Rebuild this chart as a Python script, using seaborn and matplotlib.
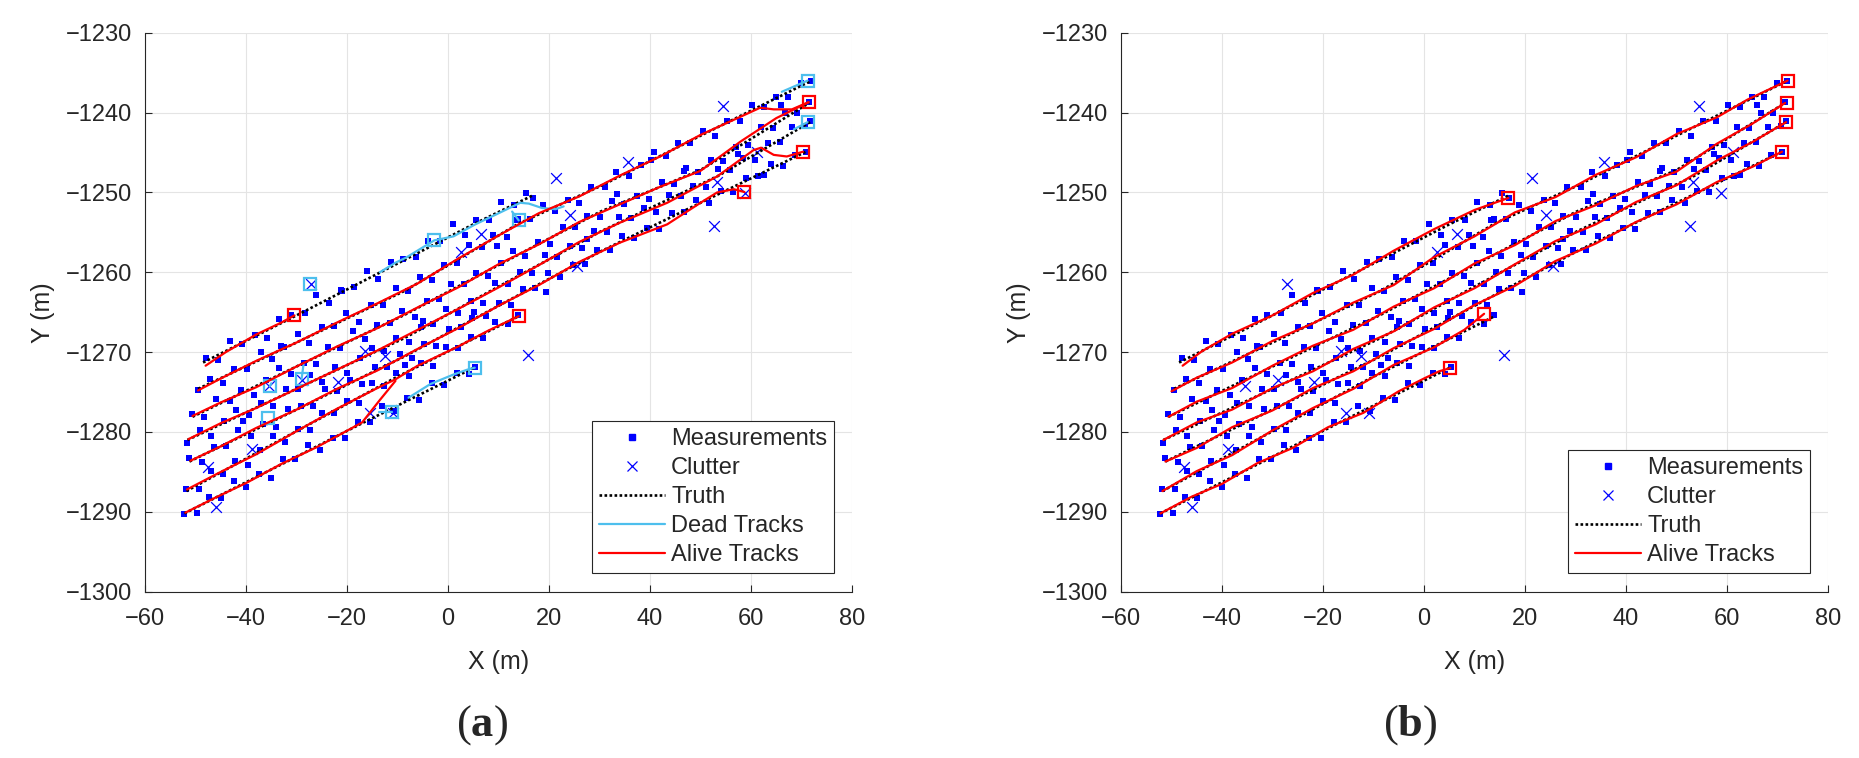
import matplotlib
matplotlib.use("Agg")
import pandas as pd
from matplotlib import pyplot as plt
from matplotlib.lines import Line2D
import seaborn as sns

# ---- measurements, one list per target (same scan in both panels)
meas_A_x = [-48.0, -45.6, -43.1, -40.8, -38.2, -35.9, -33.4, -31.0, -28.3, -26.1, -23.5, -21.2, -18.7, -16.0,
            -13.8, -11.2, -8.9, -6.3, -4.0, -1.5, 0.9, 3.3, 5.6, 8.2, 10.5, 13.1, 15.4, 16.8]
meas_A_y = [-1270.7, -1271.0, -1268.6, -1269.0, -1267.9, -1268.2, -1265.8, -1265.3, -1265.1, -1262.9, -1263.9,
            -1262.2, -1261.9, -1259.9, -1260.9, -1258.7, -1258.4, -1258.1, -1256.1, -1256.1, -1254.0, -1255.3,
            -1253.4, -1253.5, -1251.2, -1251.6, -1250.1, -1250.7]
meas_B_x = [-49.5, -47.2, -44.6, -42.3, -39.8, -37.1, -34.9, -32.4, -29.8, -27.5, -25.0, -22.6, -20.1, -17.7,
            -15.2, -12.9, -10.3, -8.0, -5.6, -3.1, -0.7, 1.8, 4.2, 6.7, 9.0, 11.6, 13.9, 16.3, 18.8, 21.1, 23.7,
            26.0, 28.4, 31.0, 33.3, 35.8, 38.2, 40.7, 43.1, 45.5, 48.0, 50.4, 52.9, 55.2, 57.8, 60.1, 62.6, 65.0,
            67.4, 69.9, 71.9]
meas_B_y = [-1274.8, -1273.4, -1273.9, -1272.1, -1272.1, -1270.0, -1270.8, -1269.4, -1267.7, -1268.9, -1266.9,
            -1266.7, -1265.1, -1266.2, -1264.1, -1264.1, -1262.0, -1262.4, -1260.6, -1261.0, -1259.1, -1258.9,
            -1256.6, -1256.8, -1255.3, -1255.6, -1253.3, -1253.3, -1251.6, -1252.3, -1250.9, -1251.3, -1249.3,
            -1249.3, -1247.4, -1248.0, -1246.6, -1245.0, -1245.5, -1243.8, -1243.8, -1242.3, -1242.9, -1241.0,
            -1241.0, -1239.1, -1239.3, -1238.0, -1238.0, -1236.3, -1236.0]
meas_C_x = [-50.6, -48.3, -45.9, -43.2, -40.9, -38.4, -36.0, -33.5, -31.1, -28.6, -26.2, -23.8, -21.3, -18.9,
            -16.4, -14.0, -11.5, -9.1, -6.6, -4.2, -1.7, 0.6, 3.1, 5.5, 8.0, 10.4, 12.9, 15.3, 17.8, 20.2, 22.7,
            25.1, 27.6, 30.0, 32.5, 34.9, 37.4, 39.8, 42.3, 44.7, 47.2, 49.6, 52.1, 54.5, 57.0, 59.4, 61.9, 64.3,
            66.8, 69.2, 71.4]
meas_C_y = [-1277.8, -1278.1, -1275.9, -1276.1, -1274.7, -1275.4, -1273.5, -1272.0, -1272.7, -1271.3, -1271.5,
            -1269.4, -1269.5, -1267.4, -1268.3, -1266.6, -1266.4, -1264.8, -1265.6, -1263.6, -1263.4, -1261.5,
            -1261.5, -1260.1, -1260.5, -1258.8, -1257.3, -1257.9, -1256.2, -1256.5, -1254.3, -1254.3, -1252.9,
            -1253.1, -1251.1, -1251.5, -1250.4, -1250.8, -1248.7, -1249.0, -1247.0, -1247.5, -1246.0, -1246.1,
            -1244.3, -1244.0, -1241.8, -1241.9, -1240.1, -1240.1, -1238.7]
meas_D_x = [-51.6, -49.2, -46.9, -44.3, -42.0, -39.5, -37.0, -34.7, -32.1, -29.8, -27.3, -24.9, -22.4, -20.0,
            -17.5, -15.1, -12.6, -10.2, -7.8, -5.3, -2.9, -0.4, 2.0, 4.5, 6.9, 9.4, 11.8, 14.3, 16.7, 19.2, 21.6,
            24.1, 26.5, 29.0, 31.4, 33.9, 36.3, 38.8, 41.2, 43.7, 46.1, 48.6, 51.0, 53.5, 55.9, 58.4, 60.8, 63.3,
            65.7, 68.2, 70.6, 71.7]
meas_D_y = [-1281.4, -1279.7, -1280.5, -1278.6, -1277.2, -1277.9, -1276.4, -1276.8, -1274.6, -1274.6, -1272.9,
            -1273.7, -1271.9, -1272.6, -1270.7, -1269.5, -1269.8, -1268.2, -1268.7, -1266.8, -1266.5, -1264.6,
            -1265.1, -1263.6, -1263.8, -1261.4, -1261.5, -1260.0, -1260.1, -1257.8, -1258.1, -1256.7, -1257.0,
            -1254.8, -1254.9, -1253.1, -1253.2, -1252.0, -1252.5, -1250.3, -1250.5, -1249.2, -1249.3, -1247.1,
            -1247.2, -1245.7, -1245.9, -1243.8, -1243.7, -1241.8, -1241.7, -1241.1]
meas_E_x = [-51.2, -48.8, -46.4, -43.9, -41.5, -39.0, -36.6, -34.1, -31.7, -29.2, -26.8, -24.3, -21.9, -19.4,
            -17.0, -14.5, -12.1, -9.6, -7.2, -4.7, -2.3, 0.2, 2.6, 5.1, 7.5, 10.0, 12.4, 14.9, 17.3, 19.8, 22.2,
            24.7, 27.1, 29.6, 32.0, 34.5, 36.9, 39.4, 41.8, 44.3, 46.7, 49.2, 51.6, 54.1, 56.5, 59.0, 61.4, 63.9,
            66.3, 68.8, 70.9]
meas_E_y = [-1283.2, -1283.8, -1281.9, -1281.7, -1279.8, -1280.5, -1279.0, -1279.4, -1277.1, -1276.8, -1276.7,
            -1274.6, -1274.9, -1273.5, -1274.0, -1271.8, -1271.9, -1270.2, -1270.7, -1269.0, -1269.2, -1267.1,
            -1266.8, -1265.0, -1265.5, -1263.9, -1264.1, -1262.1, -1262.0, -1260.1, -1260.6, -1259.1, -1259.0,
            -1257.2, -1257.2, -1255.4, -1255.7, -1254.5, -1254.6, -1252.6, -1252.5, -1251.0, -1251.3, -1249.8,
            -1250.0, -1248.2, -1248.0, -1246.5, -1246.7, -1245.3, -1244.9]
meas_F_x = [-51.8, -49.4, -47.0, -44.5, -42.1, -39.6, -37.2, -34.7, -32.3, -29.8, -27.4, -24.9, -22.5, -20.0,
            -17.6, -15.1, -12.7, -10.2, -7.8, -5.3, -2.9, -0.4, 2.0, 4.5, 6.9, 9.4, 11.8, 13.9]
meas_F_y = [-1287.2, -1287.2, -1284.9, -1285.2, -1283.6, -1284.1, -1282.2, -1280.5, -1281.2, -1279.6, -1279.8,
            -1277.6, -1277.6, -1276.1, -1276.4, -1273.9, -1274.3, -1272.6, -1273.0, -1271.3, -1271.7, -1269.4,
            -1269.5, -1268.1, -1268.2, -1266.2, -1266.5, -1265.3]
meas_G_x = [-52.2, -49.8, -47.3, -44.9, -42.4, -40.0, -37.5, -35.1, -32.6, -30.2, -27.7, -25.3, -22.8, -20.4,
            -17.9, -15.5, -13.0, -10.6, -8.1, -5.7, -3.2, -0.8, 1.7, 4.1, 5.4]
meas_G_y = [-1290.3, -1290.2, -1288.1, -1288.3, -1286.2, -1286.9, -1285.2, -1285.8, -1283.4, -1283.4, -1281.6,
            -1282.2, -1280.7, -1280.8, -1278.8, -1278.8, -1276.8, -1277.4, -1275.8, -1276.0, -1273.9, -1274.1,
            -1272.6, -1272.8, -1271.8]
# stray detections sitting between the lanes
meas_X_x = [-21.0, -8.5, 4.8, 13.2, 27.5, 40.2, 46.8, 62.5, -33.0, -5.0, 9.8, 33.5, 57.5, 66.0, -40.5, 19.5]
meas_X_y = [-1262.3, -1271.6, -1265.7, -1253.4, -1255.8, -1246.0, -1247.3, -1247.8, -1269.2, -1266.1, -1256.7,
            -1250.2, -1245.2, -1239.0, -1278.6, -1262.5]

clutter_x = [54.4, 35.7, 21.4, 61.1, 53.3, 58.9, 52.6, 24.2, 6.5, 2.6, 25.5, 15.8, -27.2, -16.5, -12.4, -21.8,
             -35.5, -29.0, -15.4, -10.8, -38.8, -47.6, -45.9]
clutter_y = [-1239.2, -1246.2, -1248.2, -1244.9, -1248.7, -1250.1, -1254.2, -1252.8, -1255.2, -1257.4, -1259.2,
             -1270.4, -1261.5, -1269.8, -1270.5, -1273.8, -1274.3, -1273.5, -1277.6, -1277.6, -1282.1, -1284.4,
             -1289.4]

# ---- ground truth waypoints
truth_A = ([-48.5, -30, -10, 5, 16.7], [-1271.3, -1265.4, -1258.9, -1254.0, -1250.4])
truth_B = ([-49.5, -30, -8.5, 14, 30.2, 50, 72], [-1274.6, -1268.8, -1262.3, -1253.9, -1249.2, -1242.9, -1236.0])
truth_C = ([-50.6, -30, -8.5, 10, 30.2, 50, 71.5], [-1278.1, -1271.8, -1265.3, -1259.1, -1252.4, -1247.2, -1238.8])
truth_D = ([-51.6, -30, -8.5, 10, 30.2, 53.3, 71.7], [-1281.0, -1274.6, -1268.2, -1261.8, -1254.9, -1248.0, -1241.2])
truth_E = ([-51.2, -30, -8.5, 10, 30.2, 50, 70.9], [-1283.7, -1277.2, -1270.5, -1264.2, -1257.4, -1251.3, -1244.9])
truth_F = ([-51.8, -30, -10.4, 14], [-1287.4, -1279.9, -1273.2, -1265.5])
truth_G = ([-52.2, -30, -17, 5.3], [-1290.2, -1283.1, -1278.9, -1271.9])

# ---- panel (a): alive tracks
a_alive_A = ([-48.0, -44, -38, -33, -30.4], [-1271.7, -1270.0, -1267.8, -1266.3, -1265.4])
a_alive_B = ([-49.5, -45, -38, -30, -22, -14, -6, 2, 10, 18, 26, 34, 42, 50, 58, 61.8, 64.5, 68.1, 71.4],
             [-1274.8, -1273.3, -1271.1, -1268.8, -1266.3, -1263.9, -1261.4, -1258.3, -1255.4, -1252.6, -1250.5,
              -1247.9, -1245.5, -1242.8, -1240.5, -1239.4, -1239.6, -1239.6, -1238.7])
a_alive_C = ([-50.6, -45, -38, -30, -22, -14, -6, 2, 10, 18, 26, 34, 42, 50, 58, 65, 71.4],
             [-1278.0, -1276.3, -1274.4, -1271.8, -1269.3, -1267.0, -1264.4, -1261.9, -1259.0, -1256.5, -1253.7,
              -1251.5, -1249.3, -1247.3, -1243.6, -1240.7, -1238.7])
a_alive_D = ([-51.4, -45, -38, -30, -22, -14, -6, 2, 10, 18, 26, 34, 43.4, 53.3, 60.5, 62, 64.5, 67.1, 70.3],
             [-1280.9, -1278.9, -1277.0, -1274.6, -1272.2, -1269.8, -1267.2, -1264.6, -1261.9, -1259.1, -1256.2,
              -1253.8, -1251.3, -1248.0, -1244.7, -1244.4, -1245.3, -1245.5, -1244.9])
a_alive_E = ([-51.0, -45, -38, -30, -22, -14, -6, 2, 10, 18, 26, 34, 43.4, 50, 53.3, 56.6, 58.7],
             [-1283.6, -1281.8, -1279.5, -1277.2, -1274.6, -1272.3, -1269.6, -1267.0, -1264.2, -1261.6, -1258.7,
              -1256.3, -1254.0, -1251.3, -1250.0, -1249.6, -1249.95])
a_alive_F = ([-51.7, -45, -38, -30, -22, -14, -10.4, -6, 2, 8, 14.0],
             [-1287.2, -1285.0, -1282.8, -1279.9, -1277.1, -1274.5, -1273.4, -1271.7, -1269.3, -1267.3, -1265.5])
a_alive_G = ([-52.0, -46, -40, -33, -26, -19, -17, -13.5, -10.4],
             [-1290.1, -1288.2, -1286.4, -1284.0, -1281.9, -1279.5, -1278.8, -1276.0, -1273.6])
a_alive_end_x = [-30.4, 14.0, 58.7, 71.4, 70.3]
a_alive_end_y = [-1265.4, -1265.5, -1249.95, -1238.7, -1244.9]

# ---- panel (a): dead tracks
a_dead_1 = ([-13.5, -10.4, -8.4, -2.7, 1.1, 5.4, 9.4, 14.3, 16.0, 18.6, 21.3, 22.9],
            [-1260.0, -1258.8, -1258.2, -1256.0, -1255.5, -1254.0, -1252.8, -1251.3, -1251.4, -1251.95, -1252.1,
             -1251.75])
a_dead_2 = ([12.7, 14.0], [-1252.4, -1253.5])
a_dead_3 = ([-35.0, -35.3], [-1273.9, -1274.3])
a_dead_4 = ([-28.6, -29.0], [-1271.5, -1273.4])
a_dead_5 = ([-13.7, -11.0], [-1277.5, -1277.5])
a_dead_6 = ([-7.8, -3.5, 1.1, 3.8, 5.3], [-1275.7, -1274.0, -1272.8, -1272.2, -1271.95])
a_dead_7 = ([66.1, 71.2], [-1237.4, -1236.0])
a_dead_8 = ([68.5, 71.2], [-1242.1, -1241.2])
a_dead_end_x = [-2.7, 14.0, -27.3, -35.3, -29.0, -35.7, -11.0, 5.3, 71.2, 71.2]
a_dead_end_y = [-1256.0, -1253.5, -1261.45, -1274.3, -1273.4, -1278.3, -1277.5, -1271.95, -1236.0, -1241.2]

# ---- panel (b): alive tracks
b_alive_A = ([-47.8, -44, -38, -30, -22, -14, -6, 2, 10, 16.7],
             [-1271.7, -1269.9, -1267.7, -1265.4, -1262.6, -1260.3, -1257.3, -1254.6, -1252.2, -1250.7])
b_alive_B = ([-50, -45, -38, -30, -22, -14, -6, 2, 10, 18, 26, 34, 42, 50, 58, 64, 72],
             [-1274.9, -1273.2, -1271.3, -1268.6, -1266.4, -1263.8, -1261.6, -1258.1, -1255.5, -1252.5, -1250.6,
              -1247.8, -1245.6, -1242.7, -1240.6, -1238.4, -1236.0])
b_alive_C = ([-50.6, -45, -38, -30, -22, -14, -6, 2, 10, 18, 26, 34, 42, 50, 58, 65, 71.5],
             [-1278.1, -1276.2, -1274.5, -1271.7, -1269.2, -1267.2, -1264.3, -1262.0, -1258.9, -1256.6, -1253.6,
              -1251.6, -1249.2, -1247.4, -1243.9, -1241.4, -1238.8])
b_alive_D = ([-51.6, -45, -38, -30, -22, -14, -6, 2, 10, 18, 26, 34, 42, 50, 58, 65, 71.7],
             [-1281.0, -1278.8, -1277.2, -1274.5, -1272.4, -1269.6, -1267.4, -1264.4, -1262.0, -1259.0, -1256.1,
              -1254.0, -1251.2, -1249.1, -1246.0, -1243.7, -1241.2])
b_alive_E = ([-51.2, -45, -38, -30, -22, -14, -6, 2, 10, 18, 26, 34, 42, 50, 58, 65, 70.9],
             [-1283.7, -1282.0, -1279.4, -1277.3, -1274.5, -1272.4, -1269.5, -1267.1, -1264.1, -1261.7, -1258.6,
              -1256.4, -1253.7, -1251.5, -1248.7, -1246.8, -1244.9])
b_alive_F = ([-51.8, -45, -38, -30, -22, -14, -6, 2, 8, 11.9],
             [-1287.4, -1284.9, -1282.9, -1279.8, -1277.0, -1274.6, -1271.6, -1269.4, -1267.2, -1265.2])
b_alive_G = ([-52.2, -46, -40, -33, -26, -19, -12, -5, 0, 3, 5.2],
             [-1290.2, -1288.1, -1286.5, -1283.9, -1282.0, -1279.4, -1277.6, -1274.9, -1273.3, -1272.4, -1272.0])
b_alive_end_x = [72.0, 71.9, 71.7, 70.9, 16.7, 11.9, 5.2]
b_alive_end_y = [-1236.0, -1238.8, -1241.2, -1244.9, -1250.7, -1265.2, -1272.0]

BLUE = (0.0, 0.0, 1.0)
RED = (1.0, 0.0, 0.0)
CYAN = (0.30, 0.75, 0.93)
INK = "#262626"
DOTS = (0, (1, 0.9))


def to_frame(tracks):
    parts = [pd.DataFrame({"x": xs, "y": ys, "track": i}) for i, (xs, ys) in enumerate(tracks)]
    return pd.concat(parts, ignore_index=True)


meas = to_frame([(meas_A_x, meas_A_y), (meas_B_x, meas_B_y), (meas_C_x, meas_C_y), (meas_D_x, meas_D_y),
                 (meas_E_x, meas_E_y), (meas_F_x, meas_F_y), (meas_G_x, meas_G_y), (meas_X_x, meas_X_y)])
truth = to_frame([truth_A, truth_B, truth_C, truth_D, truth_E, truth_F, truth_G])


def draw_panel(ax, alive, alive_end, dead=None, dead_end=None):
    ax.set_axisbelow(True)
    ax.grid(True, color="#e4e4e4", linewidth=0.8)
    sns.scatterplot(data=meas, x="x", y="y", marker="s", s=14, color=BLUE, linewidth=0,
                    ax=ax, legend=False, zorder=2)
    sns.scatterplot(x=clutter_x, y=clutter_y, marker="x", s=60, color=BLUE, linewidth=0.9,
                    ax=ax, legend=False, zorder=2)
    sns.lineplot(data=truth, x="x", y="y", units="track", estimator=None, sort=False, color="black",
                 linestyle=DOTS, linewidth=1.9, ax=ax, legend=False, zorder=3)
    if dead is not None:
        sns.lineplot(data=to_frame(dead), x="x", y="y", units="track", estimator=None, sort=False,
                     color=CYAN, linewidth=1.6, ax=ax, legend=False, zorder=4)
        ax.plot(dead_end[0], dead_end[1], ls="none", marker="s", ms=8, mfc="none", mec=CYAN, mew=1.6, zorder=4)
    sns.lineplot(data=to_frame(alive), x="x", y="y", units="track", estimator=None, sort=False,
                 color=RED, linewidth=1.6, ax=ax, legend=False, zorder=5)
    ax.plot(alive_end[0], alive_end[1], ls="none", marker="s", ms=8, mfc="none", mec=RED, mew=1.6, zorder=5)

    ax.set_xlim(-60, 80)
    ax.set_ylim(-1300, -1230)
    ax.set_xticks(range(-60, 81, 20))
    ax.set_yticks(range(-1300, -1229, 10))
    ax.tick_params(direction="in", length=5, width=0.8, labelsize=17, color=INK, labelcolor=INK, pad=9)
    ax.tick_params(axis="x", pad=12)
    for side in ["top", "right"]:
        ax.spines[side].set_visible(False)
    for side in ["left", "bottom"]:
        ax.spines[side].set_color(INK)
        ax.spines[side].set_linewidth(0.8)
    ax.set_xlabel("X (m)", fontsize=18, color=INK, labelpad=14)
    ax.set_ylabel("Y (m)", fontsize=18, color=INK, labelpad=8)

    handles = [Line2D([], [], ls="none", marker="s", ms=3.8, mfc=BLUE, mec=BLUE),
               Line2D([], [], ls="none", marker="x", ms=7.5, mec=BLUE, mew=0.9),
               Line2D([], [], color="black", ls=DOTS, lw=1.9)]
    labels = ["Measurements", "Clutter", "Truth"]
    if dead is not None:
        handles.append(Line2D([], [], color=CYAN, lw=1.6))
        labels.append("Dead Tracks")
    handles.append(Line2D([], [], color=RED, lw=1.6))
    labels.append("Alive Tracks")
    leg = ax.legend(handles, labels, loc="lower right", bbox_to_anchor=(0.975, 0.033), fontsize=17,
                    frameon=True, fancybox=False, edgecolor=INK, framealpha=1, borderpad=0.3,
                    labelspacing=0.3, handlelength=2.8, handletextpad=0.25, borderaxespad=0)
    leg.get_frame().set_linewidth(0.8)


sns.set_style("ticks")
plt.rcParams["font.family"] = ["Liberation Sans", "DejaVu Sans"]
plt.rcParams["mathtext.fontset"] = "custom"
plt.rcParams["mathtext.rm"] = "Liberation Serif"
plt.rcParams["mathtext.bf"] = "Liberation Serif:bold"

fig = plt.figure(figsize=(18.59, 7.58), dpi=100)
W, H = 1859, 758
ax_a = fig.add_axes([145 / W, 1 - 591.7 / H, 707 / W, 559 / H])
ax_b = fig.add_axes([1121 / W, 1 - 591.7 / H, 707 / W, 559 / H])

draw_panel(ax_a, [a_alive_A, a_alive_B, a_alive_C, a_alive_D, a_alive_E, a_alive_F, a_alive_G],
           (a_alive_end_x, a_alive_end_y),
           dead=[a_dead_1, a_dead_2, a_dead_3, a_dead_4, a_dead_5, a_dead_6, a_dead_7, a_dead_8],
           dead_end=(a_dead_end_x, a_dead_end_y))
draw_panel(ax_b, [b_alive_A, b_alive_B, b_alive_C, b_alive_D, b_alive_E, b_alive_F, b_alive_G],
           (b_alive_end_x, b_alive_end_y))

fig.text(482 / W, 1 - 725 / H, r"$\mathrm{(}\mathbf{a}\mathrm{)}$", fontsize=32, ha="center", va="center")
fig.text(1410 / W, 1 - 725 / H, r"$\mathrm{(}\mathbf{b}\mathrm{)}$", fontsize=32, ha="center", va="center")

fig.savefig("out.png", dpi=100)
